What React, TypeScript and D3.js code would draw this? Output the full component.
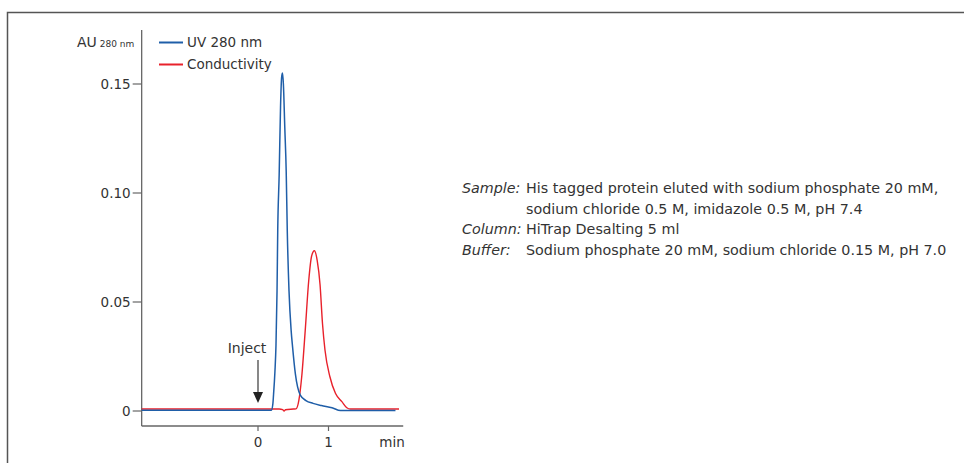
import React from 'react'
import * as d3 from 'd3'

// UV 280 nm trace (time in min, AU)
const uvTime = [-1.65, 0.19, 0.21, 0.22, 0.24, 0.255, 0.27, 0.28, 0.3, 0.32, 0.335, 0.348, 0.36, 0.38, 0.4, 0.415, 0.44, 0.47, 0.49, 0.53, 0.6, 0.68, 0.78, 0.9, 1.05, 1.17, 1.5, 1.95]
const uvValue = [0.0004, 0.0004, 0.003, 0.0073, 0.018, 0.03, 0.055, 0.083, 0.108, 0.14, 0.153, 0.155, 0.15, 0.13, 0.11, 0.083, 0.055, 0.037, 0.0295, 0.017, 0.0073, 0.0048, 0.0035, 0.0025, 0.0015, 0.0002, 0.0002, 0.0002]

// Conductivity trace
const condTime = [-1.65, 0.3, 0.35, 0.37, 0.39, 0.5, 0.54, 0.58, 0.62, 0.67, 0.72, 0.76, 0.8, 0.84, 0.88, 0.915, 0.95, 1.02, 1.1, 1.19, 1.26, 1.31, 2.0]
const condValue = [0.0009, 0.0009, 0.0006, 0.0, 0.0006, 0.0009, 0.001, 0.005, 0.0157, 0.037, 0.06, 0.071, 0.0735, 0.069, 0.058, 0.04, 0.028, 0.0157, 0.008, 0.0043, 0.0015, 0.0009, 0.0009]

const yTicks = [0, 0.05, 0.1, 0.15]
const yTickLabels = ['0', '0.05', '0.10', '0.15']
const xTicks = [0, 1]
const xDomain = [-1.65, 2.06]

const legendItems = [
  { label: 'UV 280 nm', color: '#1f5ea8' },
  { label: 'Conductivity', color: '#e8212b' },
]

const infoLines = [
  { key: 'Sample:', text: 'His tagged protein eluted with sodium phosphate 20 mM,' },
  { key: '', text: 'sodium chloride 0.5 M, imidazole 0.5 M, pH 7.4' },
  { key: 'Column:', text: 'HiTrap Desalting 5 ml' },
  { key: 'Buffer:', text: 'Sodium phosphate 20 mM, sodium chloride 0.15 M, pH 7.0' },
]

const font = '"DejaVu Sans", sans-serif'
const textColor = '#333'
const axisColor = '#666'

const App = () => {
  const x = d3.scaleLinear().domain([0, 1]).range([258, 328.5])
  const y = d3.scaleLinear().domain([0, 0.15]).range([411, 84])
  const axisY = 426
  const x0 = x(xDomain[0])
  const x1 = x(xDomain[1])

  const lineGen = d3.line<[number, number]>()
    .x(d => x(d[0]))
    .y(d => y(d[1]))
    .curve(d3.curveMonotoneX)

  const uvPath = lineGen(uvTime.map((t, i) => [t, uvValue[i]]))
  const condPath = lineGen(condTime.map((t, i) => [t, condValue[i]]))

  return (
    <svg width={964} height={463} style={{ position: 'absolute', left: 0, top: 0 }} fontFamily={font}>
      {/* frame */}
      <path d="M7.5,463 V12.5 H964" fill="none" stroke="#555" strokeWidth={1.5} />

      {/* axes */}
      <line x1={x0} x2={x0} y1={30} y2={axisY} stroke={axisColor} strokeWidth={1.3} />
      <line x1={x0} x2={x1} y1={axisY} y2={axisY} stroke={axisColor} strokeWidth={1.3} />
      {yTicks.map((t, i) => (
        <g key={t}>
          <line x1={x0 - 9} x2={x0} y1={y(t)} y2={y(t)} stroke={axisColor} strokeWidth={1.2} />
          <text x={x0 - 11} y={y(t)} dy="0.35em" textAnchor="end" fontSize={13.5} fill={textColor}>{yTickLabels[i]}</text>
        </g>
      ))}
      {xTicks.map(t => (
        <g key={t}>
          <line x1={x(t)} x2={x(t)} y1={axisY} y2={axisY + 5} stroke={axisColor} strokeWidth={1.2} />
          <text x={x(t)} y={442} dy="0.35em" textAnchor="middle" fontSize={13.5} fill={textColor}>{t}</text>
        </g>
      ))}
      <text x={392} y={442} dy="0.35em" textAnchor="middle" fontSize={13.5} fill={textColor}>min</text>

      {/* y title */}
      <text x={77} y={47} fontSize={14} fill={textColor}>AU<tspan dx={3} fontSize={9}>280 nm</tspan></text>

      {/* curves */}
      <path d={condPath ?? ''} fill="none" stroke={legendItems[1].color} strokeWidth={1.4} />
      <path d={uvPath ?? ''} fill="none" stroke={legendItems[0].color} strokeWidth={1.5} />

      {/* inject marker */}
      <text x={247} y={348} dy="0.35em" textAnchor="middle" fontSize={14} fill={textColor}>Inject</text>
      <line x1={x(0)} x2={x(0)} y1={360} y2={394} stroke="#555" strokeWidth={1.4} />
      <path d={`M${x(0) - 5},392 L${x(0) + 5},392 L${x(0)},403 Z`} fill="#222" />

      {/* legend */}
      {legendItems.map((d, i) => (
        <g key={d.label} transform={`translate(159,${42.5 + i * 22})`}>
          <line x1={0} x2={24} y1={0} y2={0} stroke={d.color} strokeWidth={2} />
          <text x={28} y={0} dy="0.35em" fontSize={13.5} fill={textColor}>{d.label}</text>
        </g>
      ))}

      {/* run conditions */}
      {infoLines.map((d, i) => (
        <g key={i} transform={`translate(0,${188 + i * 20.7})`}>
          {d.key && <text x={462} y={0} dy="0.35em" fontSize={14.3} fontStyle="italic" fill={textColor}>{d.key}</text>}
          <text x={526} y={0} dy="0.35em" fontSize={14.3} fill={textColor}>{d.text}</text>
        </g>
      ))}
    </svg>
  )
}

export default App
